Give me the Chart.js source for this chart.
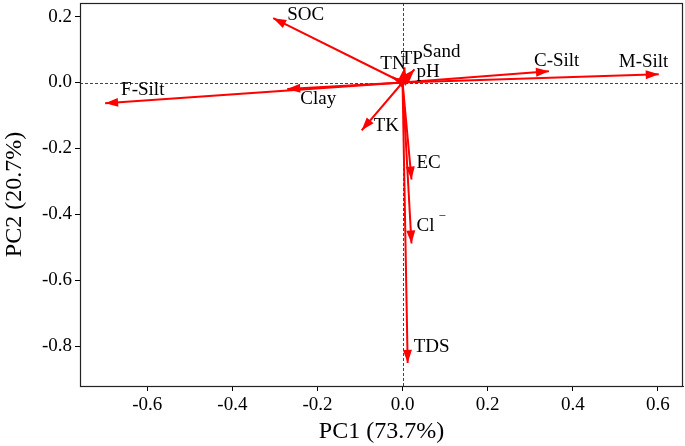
<!DOCTYPE html>
<html>
<head>
<meta charset="utf-8">
<script src="https://cdn.jsdelivr.net/npm/chart.js@4.4.0/dist/chart.umd.min.js"></script>
<style>
  html, body { margin: 0; padding: 0; background: #fff; }
  #wrap { width: 685px; height: 446px; }
</style>
</head>
<body>
<div id="wrap"><canvas id="c" width="685" height="446"></canvas></div>
<script>
// ---- Data (loadings) ----
const variables = ['SOC', 'F-Silt', 'Clay', 'C-Silt', 'M-Silt', 'TK', 'TN', 'TP', 'Sand', 'pH', 'EC', 'Cl', 'TDS'];
const pc1 = [-0.304, -0.699, -0.271, 0.344, 0.602, -0.096, -0.024, 0.005, 0.028, 0.021, 0.021, 0.021, 0.012];
const pc2 = [0.195, -0.063, -0.020, 0.034, 0.025, -0.145, 0.016, 0.046, 0.040, 0.028, -0.294, -0.488, -0.850];
const xTicks = [-0.6, -0.4, -0.2, 0.0, 0.2, 0.4, 0.6];
const yTicks = [-0.8, -0.6, -0.4, -0.2, 0.0, 0.2];
const xTitle = 'PC1 (73.7%)';
const yTitle = 'PC2 (20.7%)';

// ---- Styles / label placement (pixel offsets from arrow tip) ----
const FONT = "'Liberation Serif', 'Times New Roman', serif";
const RED = '#ff0000';
const labelOffsets = {
  'SOC':    [14, -3],
  'F-Silt': [16, -13],
  'Clay':   [13, 10],
  'C-Silt': [-15, -10],
  'M-Silt': [-40, -12],
  'TK':     [12, -4],
  'TN':     [-12, -13],
  'TP':     [-4, -8],
  'Sand':   [8, -17],
  'pH':     [5, -1],
  'EC':     [5, -16],
  'Cl':     [5, -17],
  'TDS':    [6, -16]
};

const datasets = variables.map((v, i) => ({
  label: v,
  data: [{x: 0, y: 0}, {x: pc1[i], y: pc2[i]}],
  showLine: true,
  borderColor: RED,
  backgroundColor: RED,
  borderWidth: 2,
  pointRadius: 0,
  fill: false
}));

const refLines = {
  id: 'refLines',
  beforeDatasetsDraw(chart) {
    const {ctx, chartArea: a, scales: {x, y}} = chart;
    ctx.save();
    ctx.strokeStyle = '#444';
    ctx.lineWidth = 1;
    ctx.setLineDash([3, 2]);
    const x0 = Math.round(x.getPixelForValue(0)) + 0.5;
    const y0 = Math.round(y.getPixelForValue(0)) + 0.5;
    ctx.beginPath();
    ctx.moveTo(a.left, y0); ctx.lineTo(a.right, y0);
    ctx.moveTo(x0, a.top); ctx.lineTo(x0, a.bottom);
    ctx.stroke();
    ctx.restore();
  }
};

const arrows = {
  id: 'arrows',
  afterDatasetsDraw(chart) {
    const {ctx, scales: {x, y}} = chart;
    ctx.save();
    const ox = x.getPixelForValue(0), oy = y.getPixelForValue(0);
    variables.forEach((v, i) => {
      const tx = x.getPixelForValue(pc1[i]), ty = y.getPixelForValue(pc2[i]);
      const ang = Math.atan2(ty - oy, tx - ox);
      const L = 13, W = 4.5;
      const bx = tx - L * Math.cos(ang), by = ty - L * Math.sin(ang);
      ctx.fillStyle = RED;
      ctx.beginPath();
      ctx.moveTo(tx, ty);
      ctx.lineTo(bx + W * Math.sin(ang), by - W * Math.cos(ang));
      ctx.lineTo(bx - W * Math.sin(ang), by + W * Math.cos(ang));
      ctx.closePath();
      ctx.fill();
    });
    // labels
    ctx.fillStyle = '#000';
    ctx.textBaseline = 'middle';
    ctx.textAlign = 'left';
    variables.forEach((v, i) => {
      const tx = x.getPixelForValue(pc1[i]), ty = y.getPixelForValue(pc2[i]);
      const [dx, dy] = labelOffsets[v];
      ctx.font = '19px ' + FONT;
      ctx.fillText(v, tx + dx, ty + dy);
      if (v === 'Cl') {
        const w = ctx.measureText(v).width;
        ctx.font = '13px ' + FONT;
        ctx.fillText('\u2212', tx + dx + w + 4, ty + dy - 10);
      }
    });
    ctx.restore();
  }
};

const frame = {
  id: 'frame',
  afterDraw(chart) {
    const {ctx, chartArea: a} = chart;
    ctx.save();
    ctx.strokeStyle = '#222';
    ctx.lineWidth = 1.2;
    ctx.strokeRect(Math.round(a.left) + 0.5, Math.round(a.top) + 0.5,
                   Math.round(a.right - a.left) - 1, Math.round(a.bottom - a.top));
    ctx.restore();
  }
};

const tickFont = {family: FONT, size: 19};

new Chart(document.getElementById('c'), {
  type: 'scatter',
  data: {datasets},
  options: {
    responsive: false,
    devicePixelRatio: 1,
    animation: false,
    layout: {padding: {top: 3, right: 2, left: 0, bottom: 0}},
    plugins: {legend: {display: false}, tooltip: {enabled: false}},
    scales: {
      x: {
        type: 'linear',
        min: -0.758, max: 0.659,
        afterBuildTicks: s => { s.ticks = xTicks.map(v => ({value: v})); },
        afterFit: s => { s.height = 60; s.paddingLeft = 0; s.paddingRight = 0; },
        ticks: {color: '#000', font: tickFont, padding: 3, maxRotation: 0,
                callback: v => Number(v).toFixed(1)},
        grid: {drawOnChartArea: false, drawTicks: true, tickLength: 5, color: '#000'},
        border: {display: true, color: '#222', width: 1},
        title: {display: true, text: xTitle, color: '#000',
                font: {family: FONT, size: 24}, padding: {top: 0, bottom: 0}}
      },
      y: {
        type: 'linear',
        min: -0.92, max: 0.241,
        afterBuildTicks: s => { s.ticks = yTicks.map(v => ({value: v})); },
        afterFit: s => { s.width = 80; s.paddingTop = 0; s.paddingBottom = 0; },
        ticks: {color: '#000', font: tickFont, padding: 3,
                callback: v => Number(v).toFixed(1)},
        grid: {drawOnChartArea: false, drawTicks: true, tickLength: 5, color: '#000'},
        border: {display: true, color: '#222', width: 1},
        title: {display: true, text: yTitle, color: '#000',
                font: {family: FONT, size: 24}, padding: {top: 0, bottom: 0}}
      }
    }
  },
  plugins: [refLines, arrows, frame]
});
</script>
</body>
</html>
